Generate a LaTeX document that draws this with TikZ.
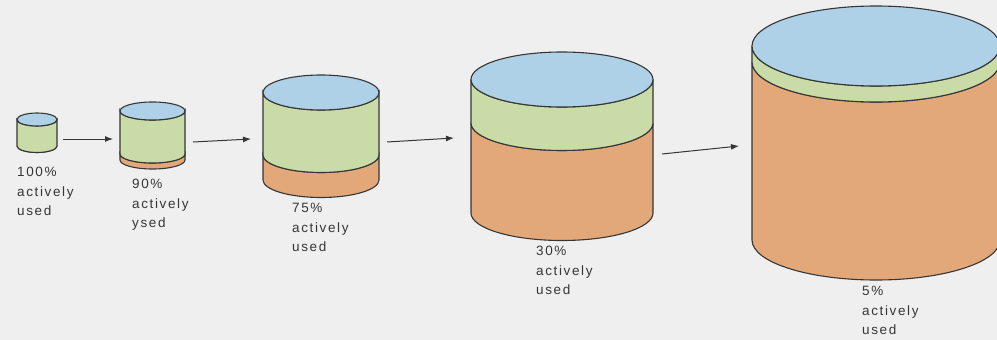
\documentclass[tikz,border=0pt]{standalone}
\usepackage{fontspec}
\newfontfamily\lblfont[LetterSpace=12]{Liberation Sans}
\usetikzlibrary{arrows.meta}
\definecolor{bgc}{HTML}{EFEFEF}
\definecolor{topc}{HTML}{AED1E8}
\definecolor{midc}{HTML}{C9DBA7}
\definecolor{lowc}{HTML}{E2A879}
\definecolor{linec}{HTML}{363636}
\definecolor{txtc}{HTML}{363636}
% #1 cx, #2 rx, #3 ytop, #4 yboundary, #5 ybottom, #6 ry
\newcommand{\mycyl}[6]{%
  \pgfmathsetmacro{\cl}{#1-#2}%
  \pgfmathsetmacro{\cr}{#1+#2}%
  \filldraw[cylline, fill=lowc] (\cl,#4) -- (\cl,#5)
     arc[start angle=180, end angle=360, x radius=#2pt, y radius=#6pt]
     -- (\cr,#4)
     arc[start angle=0, end angle=-180, x radius=#2pt, y radius=#6pt] -- cycle;
  \filldraw[cylline, fill=midc] (\cl,#3) -- (\cl,#4)
     arc[start angle=180, end angle=360, x radius=#2pt, y radius=#6pt]
     -- (\cr,#3)
     arc[start angle=0, end angle=-180, x radius=#2pt, y radius=#6pt] -- cycle;
  \filldraw[cylline, fill=topc] (#1,#3) ellipse[x radius=#2pt, y radius=#6pt];
}
\begin{document}
\begin{tikzpicture}[x=1pt, y=-1pt,
  cylline/.style={draw=linec, line width=1.1pt},
  conn/.style={draw=linec, line width=1pt, -{Latex[length=8pt,width=6pt]}},
  lbl/.style={anchor=north west, inner sep=0pt, align=left, text=txtc,
    font={\lblfont\fontsize{13.5}{19.5}\selectfont}}]
\useasboundingbox (0,0) rectangle (997,340);
\fill[bgc] (0,0) rectangle (997,340);
\begin{scope}
\clip (0,0) rectangle (997,340);
\mycyl{37}{20}{119.5}{146}{146}{6.5}
\mycyl{152.5}{32.5}{111}{154}{160}{9}
\mycyl{321}{58}{92.5}{155}{180}{17.5}
\mycyl{562}{91}{79.5}{123}{213}{27.5}
\mycyl{876}{124}{46}{62}{240}{40}
\end{scope}
\coordinate (a1s) at (63,139);  \coordinate (a1e) at (113,139);
\coordinate (a2s) at (193,142); \coordinate (a2e) at (251,139);
\coordinate (a3s) at (387,142); \coordinate (a3e) at (454,138);
\coordinate (a4s) at (662,154); \coordinate (a4e) at (739,146);
\draw[conn] (a1s) -- (a1e);
\draw[conn] (a2s) -- (a2e);
\draw[conn] (a3s) -- (a3e);
\draw[conn] (a4s) -- (a4e);
\node[lbl] (l1) at (17,167) {100\%\\actively\\used};
\node[lbl] (l2) at (132,179) {90\%\\actively\\ysed};
\node[lbl] (l3) at (292,203) {75\%\\actively\\used};
\node[lbl] (l4) at (536,246) {30\%\\actively\\used};
\node[lbl] (l5) at (862,286) {5\%\\actively\\used};
\end{tikzpicture}
\end{document}
